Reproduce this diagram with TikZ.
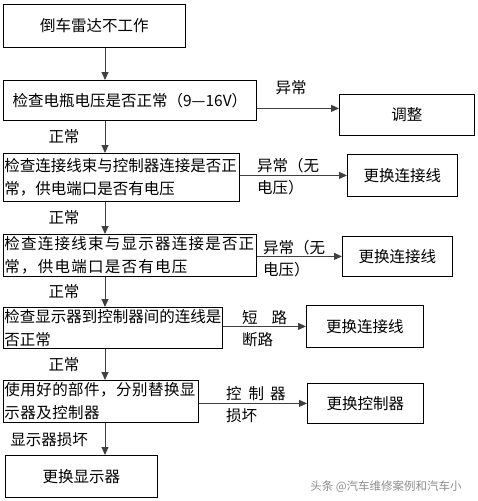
\documentclass[tikz,border=0pt]{standalone}
\usepackage{fontspec}
\setmainfont{Noto Sans CJK SC}
\usetikzlibrary{arrows.meta}

\begin{document}
\begin{tikzpicture}[x=1pt, y=-1pt,
      box/.style={draw, line width=0.8pt, anchor=north west, inner sep=1pt,
                  font=\fontsize{15.5}{23}\selectfont},
      lab/.style={inner sep=0pt, align=left, font=\fontsize{15.5}{22}\selectfont},
      arr/.style={draw=black!75, line width=1pt, -{Triangle[length=8pt,width=7pt]}}]
      \useasboundingbox (0, 0) rectangle (477, 501);
      \coordinate (spine) at (105, 0);
      % main column
      \node [box, minimum width=182, minimum height=43] (start) at (3, 4) {倒车雷达不工作};
      \node [box, minimum width=253, minimum height=40] (volt) at (3, 80) {检查电瓶电压是否正常（9—16V）};
      \node [box, text width=234, minimum height=48, align=left] (harnA) at (3, 153)
            {检查连接线束与控制器连接是否正\\常，供电端口是否有电压};
      \node [box, text width=251, minimum height=42, align=left] (harnB) at (3, 234)
            {\addfontfeature{LetterSpace=8}检查连接线束与显示器连接是否正\\常，供电端口是否有电压};
      \node [box, text width=217, minimum height=41, align=left] (link) at (3, 307)
            {检查显示器到控制器间的连线是\\否正常};
      \node [box, text width=193, minimum height=42, align=left] (swap) at (3, 380)
            {\addfontfeature{LetterSpace=3}使用好的部件，分别替换显\\示器及控制器};
      \node [box, minimum width=152, minimum height=42] (disp) at (5, 455) {更换显示器};
      % right column
      \node [box, minimum width=135, minimum height=41] (adjust) at (339, 94) {调整};
      \node [box, minimum width=110, minimum height=42] (wireA) at (347, 154) {更换连接线};
      \node [box, minimum width=110, minimum height=40] (wireB) at (342, 236) {更换连接线};
      \node [box, minimum width=117, minimum height=42] (wireC) at (306, 305) {更换连接线};
      \node [box, minimum width=116, minimum height=40] (ctrl) at (307, 383) {更换控制器};
      % downward arrows
      \draw [arr] (start.south -| spine) -- (volt.north -| spine);
      \draw [arr] (volt.south -| spine) -- (harnA.north -| spine);
      \draw [arr] (harnA.south -| spine) -- (harnB.north -| spine);
      \draw [arr] (harnB.south -| spine) -- (link.north -| spine);
      \draw [arr] (link.south -| spine) -- (swap.north -| spine);
      \draw [arr] (swap.south -| spine) -- (disp.north -| spine);
      % sideways arrows
      \draw [arr] ([yshift=-8pt]volt.east) -- ([yshift=-8pt]volt.east -| adjust.west);
      \draw [arr] (harnA.east |- wireA.west) -- (wireA.west);
      \draw [arr] (harnB.east |- wireB.west) -- (wireB.west);
      \draw [arr] (link.east |- wireC.west) -- (wireC.west);
      \draw [arr] (swap.east |- ctrl.west) -- (ctrl.west);
      % labels
      \node [lab] (bad1) at (291, 88) {异常};
      \node [lab] (ok1) at (64, 137) {正常};
      \node [lab, anchor=west] (bad2) at (257, 177) {异常（无\\电压）};
      \node [lab] (ok2) at (64, 218) {正常};
      \node [lab, anchor=west] (bad3) at (263, 259) {异常（无\\电压）};
      \node [lab] (ok3) at (64, 292) {正常};
      \node [lab, anchor=west] (bad4) at (242, 329) {短\hspace{14pt}路\\断路};
      \node [lab] (ok4) at (64, 365) {正常};
      \node [lab, anchor=west] (bad5) at (226, 405) {控\hspace{7pt}制\hspace{6pt}器\\损坏};
      \node [lab] (bad6) at (49, 440) {显示器损坏};
      \node [inner sep=0pt, text=black!45, font=\fontsize{11.5}{12}\selectfont] (mark) at (386, 487)
            {头条 @汽车维修案例和汽车小};
\end{tikzpicture}
\end{document}
